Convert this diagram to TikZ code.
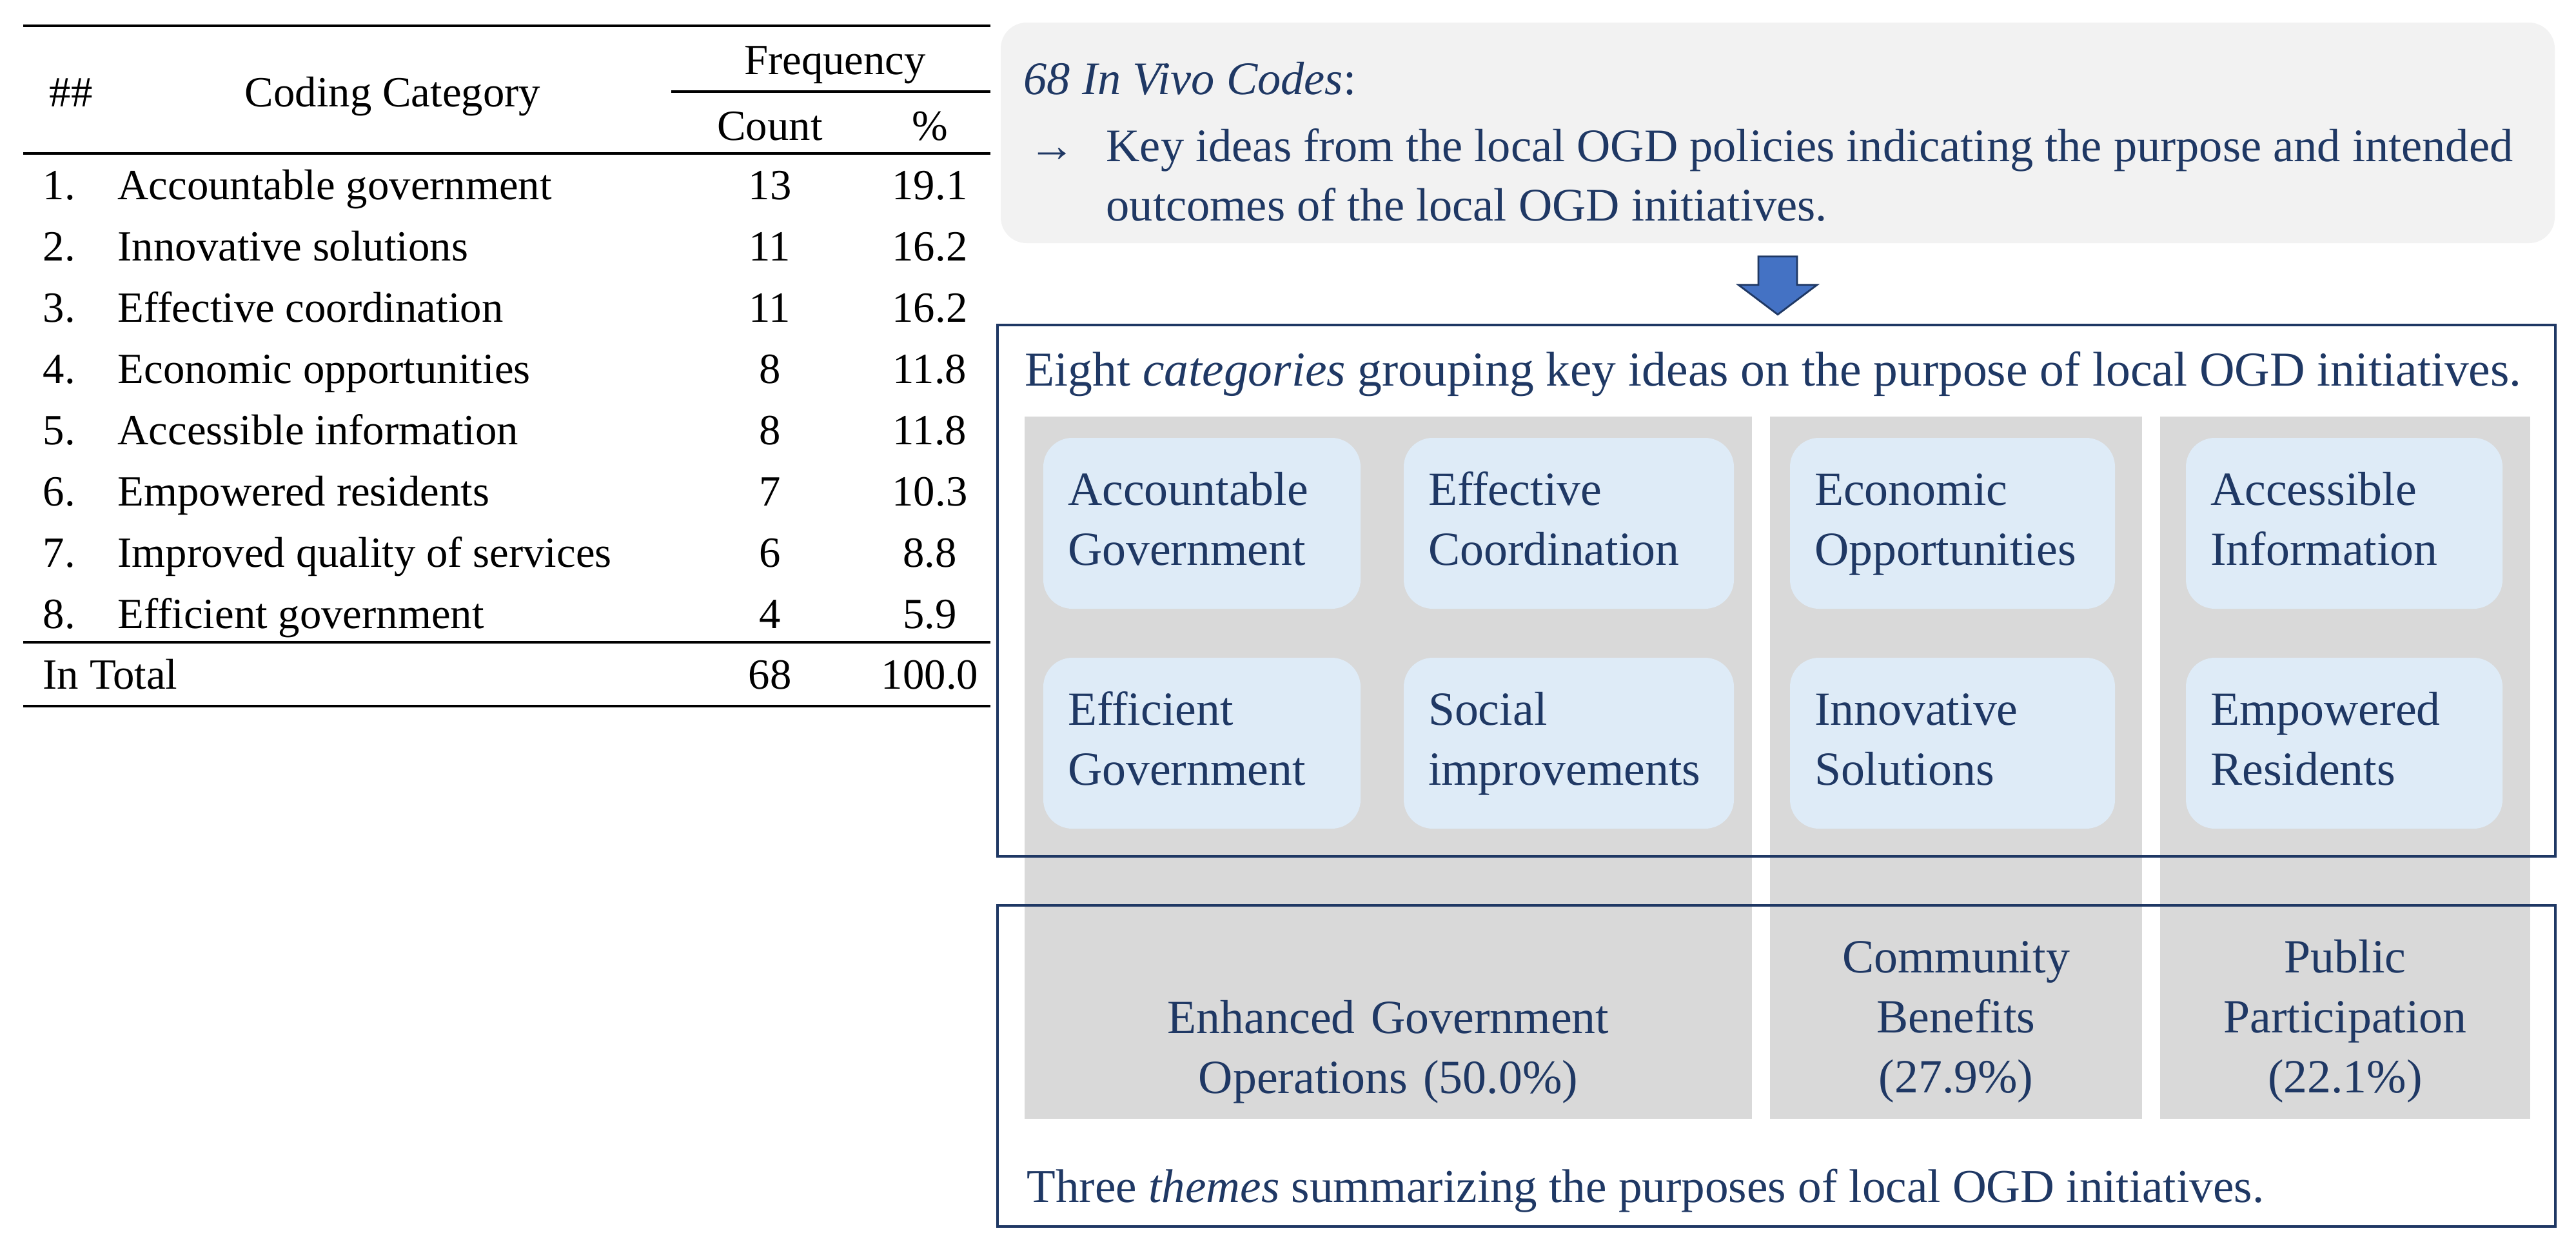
\documentclass[tikz,border=0pt]{standalone}
\usepackage{fontspec}
\setmainfont{Liberation Serif}
\definecolor{navy}{RGB}{31,56,100}
\definecolor{catblue}{RGB}{222,235,247}
\definecolor{colgray}{RGB}{217,217,217}
\definecolor{boxgray}{RGB}{242,242,242}
\definecolor{arrowblue}{RGB}{68,114,196}
\begin{document}
\begin{tikzpicture}[rule/.style={line width=1.4pt},
  column/.style={fill=colgray,inner sep=0pt,minimum height=10.89cm},
  catbox/.style={fill=catblue,rounded corners=0.45cm,inner xsep=0.38cm,inner ysep=0pt,minimum height=2.65cm,align=left,
    execute at begin node=\strut,execute at end node=\strut},
  frame/.style={draw=navy,line width=1.2pt,inner sep=0pt,minimum width=24.16cm},
  theme/.style={align=center,anchor=base},
  blockarrow/.style={fill=arrowblue,draw=navy,line width=0.8pt,line join=miter}]
\useasboundingbox (0,0) rectangle (39.95,-19.39);
% frequency table
\begin{scope}[every node/.style={inner sep=0pt,font=\fontsize{19}{23}\selectfont}]
\node[anchor=base] (hnum) at (1.10,-1.65) {\#\#};
\node[anchor=base] (hcat) at (6.09,-1.65) {Coding Category};
\node[anchor=base] (hfreq) at (12.95,-1.15) {Frequency};
\node[anchor=base] (hcount) at (11.94,-2.17) {Count};
\node[anchor=base] (hpct) at (14.42,-2.17) {\%};
\node[anchor=base west] (n1) at (0.66,-3.09) {1.};
\node[anchor=base west] (c1) at (1.82,-3.09) {Accountable government};
\node[anchor=base] (k1) at (11.94,-3.09) {13};
\node[anchor=base] (p1) at (14.42,-3.09) {19.1};
\node[anchor=base west] (n2) at (0.66,-4.04) {2.};
\node[anchor=base west] (c2) at (1.82,-4.04) {Innovative solutions};
\node[anchor=base] (k2) at (11.94,-4.04) {11};
\node[anchor=base] (p2) at (14.42,-4.04) {16.2};
\node[anchor=base west] (n3) at (0.66,-4.99) {3.};
\node[anchor=base west] (c3) at (1.82,-4.99) {Effective coordination};
\node[anchor=base] (k3) at (11.94,-4.99) {11};
\node[anchor=base] (p3) at (14.42,-4.99) {16.2};
\node[anchor=base west] (n4) at (0.66,-5.94) {4.};
\node[anchor=base west] (c4) at (1.82,-5.94) {Economic opportunities};
\node[anchor=base] (k4) at (11.94,-5.94) {8};
\node[anchor=base] (p4) at (14.42,-5.94) {11.8};
\node[anchor=base west] (n5) at (0.66,-6.89) {5.};
\node[anchor=base west] (c5) at (1.82,-6.89) {Accessible information};
\node[anchor=base] (k5) at (11.94,-6.89) {8};
\node[anchor=base] (p5) at (14.42,-6.89) {11.8};
\node[anchor=base west] (n6) at (0.66,-7.84) {6.};
\node[anchor=base west] (c6) at (1.82,-7.84) {Empowered residents};
\node[anchor=base] (k6) at (11.94,-7.84) {7};
\node[anchor=base] (p6) at (14.42,-7.84) {10.3};
\node[anchor=base west] (n7) at (0.66,-8.79) {7.};
\node[anchor=base west] (c7) at (1.82,-8.79) {Improved quality of services};
\node[anchor=base] (k7) at (11.94,-8.79) {6};
\node[anchor=base] (p7) at (14.42,-8.79) {8.8};
\node[anchor=base west] (n8) at (0.66,-9.74) {8.};
\node[anchor=base west] (c8) at (1.82,-9.74) {Efficient government};
\node[anchor=base] (k8) at (11.94,-9.74) {4};
\node[anchor=base] (p8) at (14.42,-9.74) {5.9};
\node[anchor=base west] (tot) at (0.66,-10.68) {In Total};
\node[anchor=base] (totk) at (11.94,-10.68) {68};
\node[anchor=base] (totp) at (14.42,-10.68) {100.0};
\end{scope}
\draw[rule] (0.36,-0.40) -- (15.36,-0.40);
\draw[rule] (10.41,-1.42) -- (15.36,-1.42);
\draw[rule] (0.36,-2.38) -- (15.36,-2.38);
\draw[rule] (0.36,-9.96) -- (15.36,-9.96);
\draw[rule] (0.36,-10.95) -- (15.36,-10.95);
% in vivo codes
\node[fill=boxgray,rounded corners=0.4cm,minimum width=24.10cm,minimum height=3.42cm] (codes) at (27.57,-2.06) {};
\begin{scope}[every node/.style={inner sep=0pt,text=navy,font=\fontsize{20.6}{26.5}\selectfont}]
\node[anchor=base west] (codestitle) at (15.87,-1.46) {\textit{68 In Vivo Codes}:};
\node[anchor=base west] (codesmark) at (15.95,-2.50) {→};
\node[anchor=base west] (key1) at (17.15,-2.50) {Key ideas from the local OGD policies indicating the purpose and intended};
\node[anchor=base west] (key2) at (17.15,-3.42) {outcomes of the local OGD initiatives.};
\end{scope}
\coordinate (arrowtop) at ([yshift=-0.2cm]codes.south);
\draw[blockarrow] (arrowtop) ++(-0.30,0) -- ++(0.60,0) -- ++(0,-0.44) -- ++(0.31,0) -- ++(-0.61,-0.46) -- ++(-0.61,0.46) -- ++(0.31,0) -- cycle;
% categories and themes
\node[column,minimum width=11.28cm] (col1) at (21.53,-11.905) {};
\node[column,minimum width=5.77cm] (col2) at (30.335,-11.905) {};
\node[column,minimum width=5.74cm] (col3) at (36.37,-11.905) {};
\node[frame,minimum height=8.24cm] (catframe) at (27.55,-9.16) {};
\node[frame,minimum height=4.98cm] (themeframe) at (27.55,-16.53) {};
\begin{scope}[every node/.style={text=navy,font=\fontsize{21}{26.5}\selectfont}]
\node[inner sep=0pt,anchor=base west,font=\fontsize{21.5}{26.5}\selectfont] (cattitle) at (15.89,-5.98) {Eight \textit{categories} grouping key ideas on the purpose of local OGD initiatives.};
\node[catbox,text width=4.16cm] (accountable) at (18.64,-8.115) {Accountable\\Government};
\node[catbox,text width=4.36cm] (effective) at (24.33,-8.115) {Effective\\Coordination};
\node[catbox,text width=4.28cm] (economic) at (30.28,-8.115) {Economic\\Opportunities};
\node[catbox,text width=4.15cm] (accessible) at (36.355,-8.115) {Accessible\\Information};
\node[catbox,text width=4.16cm] (efficient) at (18.64,-11.525) {Efficient\\Government};
\node[catbox,text width=4.36cm] (social) at (24.33,-11.525) {Social\\improvements};
\node[catbox,text width=4.28cm] (innovative) at (30.28,-11.525) {Innovative\\Solutions};
\node[catbox,text width=4.15cm] (empowered) at (36.355,-11.525) {Empowered\\Residents};
\node[theme,text width=10cm] (operations) at (21.53,-16.02) {Enhanced Government\\Operations (50.0\%)};
\node[theme,text width=5.5cm] (community) at (30.335,-15.08) {Community\\Benefits\\(27.9\%)};
\node[theme,text width=5.5cm] (participation) at (36.37,-15.08) {Public\\Participation\\(22.1\%)};
\node[inner sep=0pt,anchor=base west,font=\fontsize{20.8}{26.5}\selectfont] (themetitle) at (15.92,-18.64) {Three \textit{themes} summarizing the purposes of local OGD initiatives.};
\end{scope}
\end{tikzpicture}
\end{document}
